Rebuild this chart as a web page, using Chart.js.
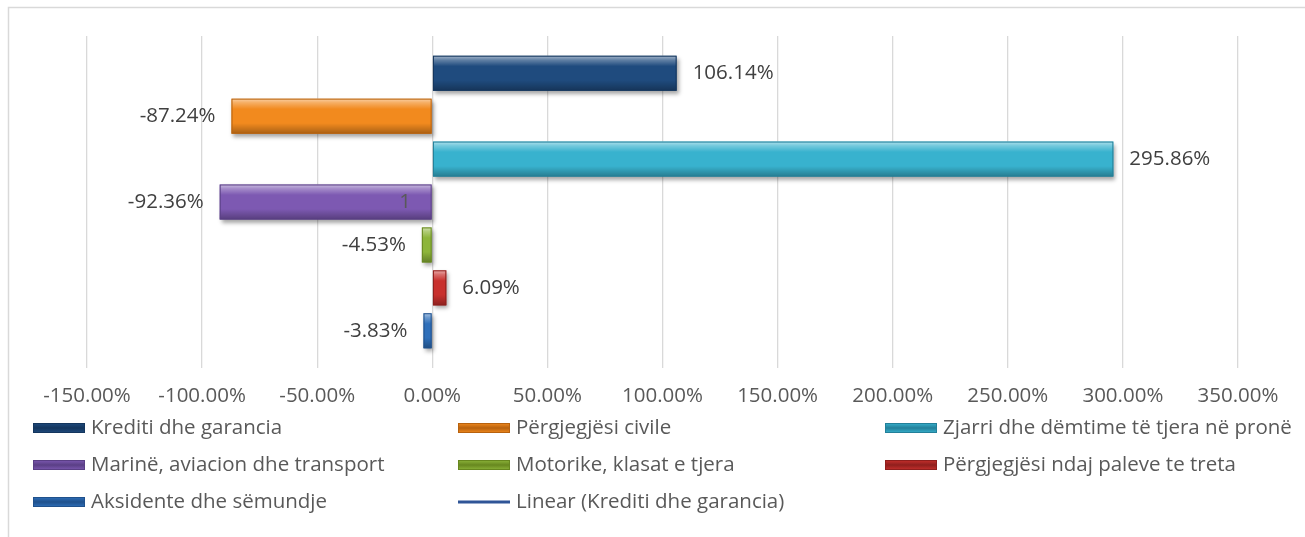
<!DOCTYPE html>
<html>
<head>
<meta charset="utf-8">
<script src="https://cdn.jsdelivr.net/npm/chart.js@4/dist/chart.umd.min.js"></script>
<style>
html, body { margin: 0; padding: 0; background: #fff; }
#wrap { position: relative; width: 1305px; height: 537px; }
</style>
</head>
<body>
<div id="wrap"><canvas id="chart" width="1305" height="537"></canvas></div>
<script>
// data
var categories = ['1'];
var seriesNames = [
    'Krediti dhe garancia',
    'Përgjegjësi civile',
    'Zjarri dhe dëmtime të tjera në pronë',
    'Marinë, aviacion dhe transport',
    'Motorike, klasat e tjera',
    'Përgjegjësi ndaj paleve te treta',
    'Aksidente dhe sëmundje'
];
var seriesValues = [106.14, -87.24, 295.86, -92.36, -4.53, 6.09, -3.83];
var trendName = 'Linear (Krediti dhe garancia)';
var xTickMin = -150, xTickMax = 350, xTickStep = 50;

// bar colours: base fill, edge
var barColors = ['#1F4B7E', '#F28A1E', '#38B2CE', '#7D59B2', '#8DB53A', '#C8302D', '#2E6FBA'];
var edgeColors = ['#14365E', '#B8620E', '#23809A', '#5A3F85', '#67871F', '#8F1F1D', '#20518C'];
var trendColor = '#2F5597';

var FONT = '"Open Sans"';
var FS = 20.5;
var textColor = '#595959';

var datasets = seriesNames.map(function (name, i) {
    return {
        label: name,
        data: [seriesValues[i]],
        backgroundColor: barColors[i],
        borderWidth: 0,
        categoryPercentage: 0.905,
        barPercentage: 0.816
    };
});

// light frame of the chart box
var framePlugin = {
    id: 'frame',
    beforeDraw: function (chart) {
        var c = chart.ctx;
        c.save();
        c.strokeStyle = '#D9D9D9';
        c.lineWidth = 1.5;
        c.beginPath();
        c.moveTo(8.5, chart.height);
        c.lineTo(8.5, 7.5);
        c.lineTo(chart.width, 7.5);
        c.stroke();
        c.restore();
    }
};

// bevel look + value labels
var barDecor = {
    id: 'barDecor',
    beforeDatasetsDraw: function (chart) {
        var c = chart.ctx;
        c.save();
        c.shadowColor = 'rgba(0,0,0,0.35)';
        c.shadowBlur = 4;
        c.shadowOffsetX = 2;
        c.shadowOffsetY = 3;
    },
    afterDatasetsDraw: function (chart) {
        var c = chart.ctx;
        c.restore();
        chart.data.datasets.forEach(function (ds, i) {
            var meta = chart.getDatasetMeta(i);
            meta.data.forEach(function (el, j) {
                var p = el.getProps(['x', 'y', 'base', 'height'], true);
                var l = Math.min(p.x, p.base), r = Math.max(p.x, p.base);
                var t = p.y - p.height / 2, h = p.height;
                var g = c.createLinearGradient(0, t, 0, t + h);
                g.addColorStop(0, 'rgba(255,255,255,0.6)');
                g.addColorStop(0.12, 'rgba(255,255,255,0.3)');
                g.addColorStop(0.3, 'rgba(255,255,255,0)');
                g.addColorStop(0.7, 'rgba(0,0,0,0)');
                g.addColorStop(1, 'rgba(0,0,0,0.3)');
                c.save();
                c.fillStyle = g;
                c.fillRect(l, t, r - l, h);
                c.strokeStyle = edgeColors[i];
                c.lineWidth = 1;
                c.strokeRect(l + 0.5, t + 0.5, r - l - 1, h - 1);
                c.restore();

                var v = ds.data[j];
                c.save();
                c.font = FS + 'px ' + FONT;
                c.fillStyle = '#404040';
                c.textBaseline = 'middle';
                c.textAlign = v >= 0 ? 'left' : 'right';
                c.fillText(v.toFixed(2) + '%', v >= 0 ? p.x + 16 : p.x - 16, p.y);
                c.restore();
            });
        });
    }
};

// three-column legend under the axis
var legendCols = [33, 458, 885];
var legendRows = [428, 465, 502];
var legendPlugin = {
    id: 'gridLegend',
    afterDraw: function (chart) {
        var c = chart.ctx;
        var items = seriesNames.map(function (n, i) { return { text: n, color: barColors[i], edge: edgeColors[i] }; });
        items.push({ text: trendName, line: trendColor });
        items.forEach(function (it, k) {
            var x = legendCols[k % 3], y = legendRows[Math.floor(k / 3)];
            c.save();
            if (it.line) {
                c.strokeStyle = it.line;
                c.lineWidth = 3;
                c.beginPath();
                c.moveTo(x, y);
                c.lineTo(x + 52, y);
                c.stroke();
            } else {
                var g = c.createLinearGradient(0, y - 5, 0, y + 5);
                g.addColorStop(0, it.color);
                g.addColorStop(0.5, it.edge);
                g.addColorStop(1, it.color);
                c.fillStyle = g;
                c.fillRect(x, y - 5, 52, 10);
                c.strokeStyle = it.edge;
                c.lineWidth = 1;
                c.strokeRect(x + 0.5, y - 4.5, 51, 9);
            }
            c.font = FS + 'px ' + FONT;
            c.fillStyle = textColor;
            c.textBaseline = 'middle';
            c.textAlign = 'left';
            c.fillText(it.text, x + 58, y);
            c.restore();
        });
    }
};

new Chart(document.getElementById('chart'), {
    type: 'bar',
    data: { labels: categories, datasets: datasets },
    options: {
        indexAxis: 'y',
        responsive: false,
        animation: false,
        devicePixelRatio: 1,
        layout: { padding: { left: 87, right: 67, top: 36, bottom: 119 } },
        plugins: {
            legend: { display: false },
            tooltip: { enabled: false }
        },
        scales: {
            x: {
                type: 'linear',
                min: xTickMin,
                max: xTickMax,
                ticks: {
                    stepSize: xTickStep,
                    color: textColor,
                    font: { family: FONT, size: FS },
                    padding: 16,
                    callback: function (v) { return v.toFixed(2) + '%'; }
                },
                grid: { color: '#D9D9D9', lineWidth: 1.3, drawTicks: false },
                border: { display: false },
                afterFit: function (s) { s.height = 50; }
            },
            y: {
                // category axis crosses at 0, label sits over the bars
                position: { x: 0 },
                grid: { display: false },
                border: { display: false },
                ticks: {
                    color: textColor,
                    font: { family: FONT, size: FS },
                    z: 1,
                    // padding is ignored for a crossing axis, so pad with spaces
                    callback: function (v) { return this.getLabelForValue(v) + '    '; }
                },
                afterFit: function (s) { s.paddingTop = 0; s.paddingBottom = 0; }
            }
        }
    },
    plugins: [framePlugin, barDecor, legendPlugin]
});
</script>
</body>
</html>
